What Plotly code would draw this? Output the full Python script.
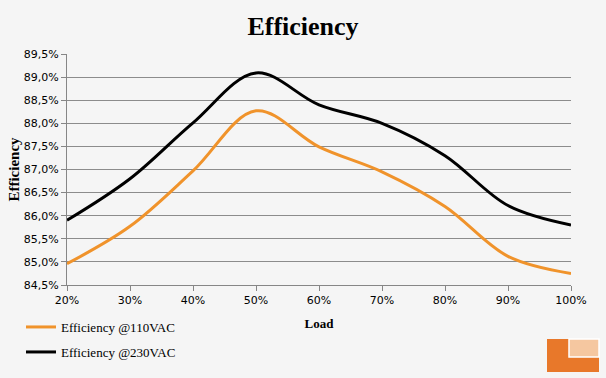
import plotly.graph_objects as go

loads = [20, 30, 40, 50, 60, 70, 80, 90, 100]
eff_110 = [84.96, 85.77, 86.97, 88.27, 87.49, 86.95, 86.2, 85.12, 84.75]
eff_230 = [85.9, 86.8, 88.01, 89.09, 88.4, 88.0, 87.3, 86.22, 85.8]
x_ticks = [20, 30, 40, 50, 60, 70, 80, 90, 100]
x_labels = ["20%", "30%", "40%", "50%", "60%", "70%", "80%", "90%", "100%"]
y_ticks = [84.5, 85.0, 85.5, 86.0, 86.5, 87.0, 87.5, 88.0, 88.5, 89.0, 89.5]
y_labels = ["84,5%", "85,0%", "85,5%", "86,0%", "86,5%", "87,0%", "87,5%", "88,0%", "88,5%", "89,0%", "89,5%"]

serif = "Liberation Serif, DejaVu Serif, serif"
sans = "DejaVu Sans, Verdana, sans-serif"

fig = go.Figure()
fig.add_trace(go.Scatter(x=loads, y=eff_110, mode="lines", name="Efficiency @110VAC",
                         line=dict(color="#f0932b", width=3, shape="spline", smoothing=1.0),
                         legend="legend", showlegend=True))
fig.add_trace(go.Scatter(x=loads, y=eff_230, mode="lines", name="Efficiency @230VAC",
                         line=dict(color="#000000", width=3, shape="spline", smoothing=1.0),
                         legend="legend2", showlegend=True))

fig.update_layout(
    width=606, height=378,
    showlegend=True,
    paper_bgcolor="#f5f5f5", plot_bgcolor="#f5f5f5",
    margin=dict(l=67, r=35, t=54, b=93, autoexpand=False),
    title=dict(text="<b>Efficiency</b>", x=0.5, xanchor="center", y=1 - 26 / 378, yanchor="middle",
               font=dict(family=serif, size=26, color="#000")),
    xaxis=dict(range=[20, 100], tickvals=x_ticks, ticktext=x_labels, showgrid=False,
               showline=True, linecolor="#868686", ticks="outside", ticklen=5, tickcolor="#868686",
               tickfont=dict(family=sans, size=11, color="#000"),
               title=dict(text="<b>Load</b>", font=dict(family=serif, size=13, color="#000"), standoff=12),
               zeroline=False),
    yaxis=dict(range=[84.5, 89.5], tickvals=y_ticks, ticktext=y_labels,
               showgrid=True, gridcolor="#8c8c8c", gridwidth=1,
               showline=True, linecolor="#868686", ticks="outside", ticklen=5, tickcolor="#868686",
               tickfont=dict(family=sans, size=11, color="#000"),
               title=dict(text="<b>Efficiency</b>", font=dict(family=serif, size=15, color="#000"), standoff=0),
               zeroline=False),
    legend=dict(x=(21 - 67) / 504, y=(285 - 312) / 231, xanchor="left", yanchor="top", visible=True,
                font=dict(family=serif, size=13, color="#000"), bgcolor="rgba(0,0,0,0)", itemwidth=30),
    legend2=dict(x=(21 - 67) / 504, y=(285 - 337) / 231, xanchor="left", yanchor="top", visible=True,
                 font=dict(family=serif, size=13, color="#000"), bgcolor="rgba(0,0,0,0)", itemwidth=30),
    shapes=[
        dict(type="rect", xref="paper", yref="paper", x0=(547 - 67) / 504, x1=(599 - 67) / 504,
             y0=(285 - 372) / 231, y1=(285 - 339) / 231, fillcolor="#e8782a", line=dict(width=0)),
        dict(type="rect", xref="paper", yref="paper", x0=(569 - 67) / 504, x1=(599 - 67) / 504,
             y0=(285 - 357) / 231, y1=(285 - 339) / 231, fillcolor="#f5c7a0", line=dict(color="#ffffff", width=1.5)),
    ],
)

fig.write_html("out.html", config={"displayModeBar": False},
               post_script="document.body.style.margin='0';")
